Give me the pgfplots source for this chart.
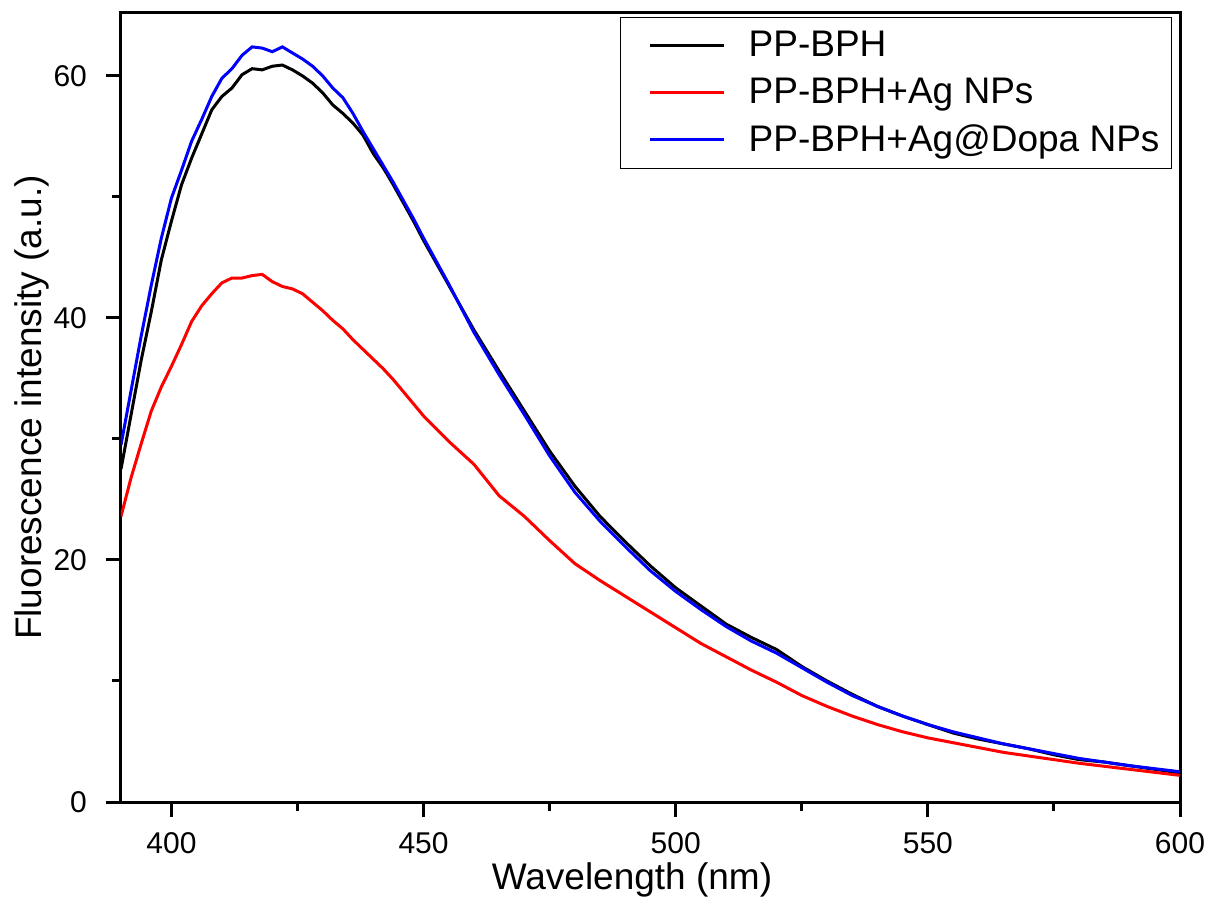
\documentclass[border=0pt]{standalone}
\usepackage{pgfplots}
\pgfplotsset{compat=1.18}
\usepackage{pgfplotstable}
\usepackage{fontspec}
\setmainfont{Liberation Sans}

% wavelength (nm), PP-BPH, PP-BPH+Ag NPs, PP-BPH+Ag@Dopa NPs
\pgfplotstableread{
wl    bph    ag     dopa
390   27.5   23.6   29.5
392   32.0   26.8   34.0
394   36.5   29.6   38.5
396   40.5   32.3   42.7
398   44.8   34.3   46.6
400   48.0   36.0   49.9
402   51.0   37.8   52.2
404   53.2   39.7   54.6
406   55.2   41.0   56.4
408   57.2   42.0   58.3
410   58.3   42.9   59.8
412   59.0   43.3   60.6
414   60.1   43.3   61.7
416   60.6   43.5   62.4
418   60.5   43.6   62.3
420   60.8   43.0   62.0
422   60.9   42.6   62.4
424   60.5   42.4   61.9
426   60.0   42.0   61.4
428   59.4   41.3   60.8
430   58.6   40.6   60.0
432   57.6   39.8   59.0
434   56.9   39.1   58.2
436   56.1   38.2   56.9
438   55.1   37.4   55.4
440   53.6   36.6   54.0
442   52.4   35.8   52.6
444   51.0   34.9   51.2
446   49.5   33.9   49.7
448   48.0   32.9   48.2
450   46.4   31.9   46.6
455   42.7   29.8   42.8
460   39.0   27.9   38.8
465   35.6   25.3   35.3
470   32.3   23.6   32.0
475   29.0   21.6   28.6
480   26.1   19.7   25.6
485   23.6   18.3   23.2
490   21.5   17.0   21.1
495   19.5   15.7   19.1
500   17.7   14.4   17.4
505   16.2   13.1   15.9
510   14.7   12.0   14.5
515   13.6   10.9   13.3
520   12.6    9.9   12.3
525   11.2    8.8   11.1
530   10.0    7.9    9.9
535    8.9    7.1    8.8
540    7.9    6.4    7.9
545    7.1    5.8    7.1
550    6.4    5.3    6.4
555    5.7    4.9    5.8
560    5.2    4.5    5.3
565    4.8    4.1    4.8
570    4.4    3.8    4.4
575    3.9    3.5    4.0
580    3.5    3.2    3.6
585    3.3    2.95   3.3
590    3.0    2.7    3.0
595    2.7    2.45   2.75
600    2.4    2.2    2.5
}\spectra

\begin{document}
\begin{tikzpicture}
\path[use as bounding box] (-60.5pt,-48.5pt) rectangle (544pt,401pt);
\begin{axis}[
    at={(0pt,0pt)}, anchor=south west,
    scale only axis,
    width=529.5pt, height=394.5pt,
    xmin=390, xmax=600,
    ymin=0, ymax=65.2,
    xtick={400,450,500,550,600},
    ytick={0,20,40,60},
    minor x tick num=1,
    minor y tick num=1,
    tick align=outside,
    tick pos=left,
    major tick length=7.5pt,
    minor tick length=4.5pt,
    every tick/.style={black, line width=1.5pt},
    axis line style={line width=1.5pt},
    /pgf/number format/assume math mode=true,
    ticklabel style={font=\fontsize{15}{18}\selectfont},
    xticklabel style={yshift=-4pt},
    yticklabel style={xshift=-6pt},
    xlabel={Wavelength (nm)},
    ylabel={Fluorescence intensity (a.u.)},
    label style={font=\fontsize{18.5}{22}\selectfont},
    xlabel style={at={(axis description cs:0.4825,-0.1115)}, anchor=base},
    ylabel style={at={(axis description cs:-0.084,0.5)}, anchor=center},
    legend style={at={(axis description cs:1,1)}, anchor=north east,
        xshift=-4pt, yshift=-2pt, draw=black, line width=0.5pt,
        font=\fontsize{18.5}{22}\selectfont, row sep=5pt,
        inner xsep=4pt, inner ysep=5pt,
        /tikz/every odd column/.append style={column sep=9.5pt}},
    legend cell align=left,
    legend image code/.code={
        \draw[draw=white, opacity=0, line width=0.1pt] (0pt,0pt) -- (20pt,0pt);
        \draw[#1] (11pt,0pt) -- (48pt,0pt);},
]
\addplot[black, line width=1.5pt] table[x=wl, y=bph] {\spectra};
\addlegendentry{PP-BPH}
\addplot[red, line width=1.5pt] table[x=wl, y=ag] {\spectra};
\addlegendentry{PP-BPH+Ag NPs}
\addplot[blue, line width=1.5pt] table[x=wl, y=dopa] {\spectra};
\addlegendentry{PP-BPH+Ag@Dopa NPs}
\end{axis}
\end{tikzpicture}
\end{document}
